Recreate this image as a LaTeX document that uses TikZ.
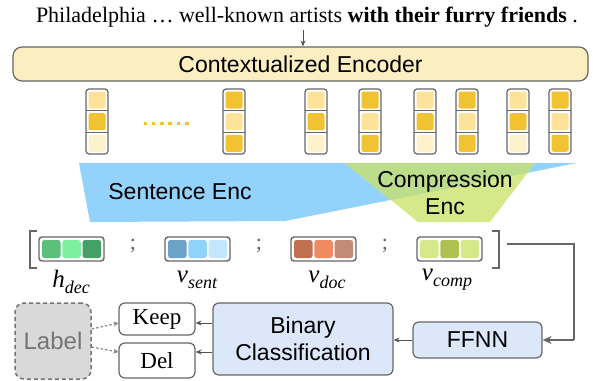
\documentclass[tikz,border=0pt]{standalone}
\usepackage{fontspec}
\setmainfont{Liberation Serif}
\setsansfont{Liberation Sans}
\usetikzlibrary{arrows.meta}
\definecolor{linegray}{HTML}{666666}
\definecolor{encfill}{HTML}{FBEEC1}
\definecolor{tokL}{HTML}{FDE39A}
\definecolor{tokD}{HTML}{F1C232}
\definecolor{tokV}{HTML}{FEF2CC}
\definecolor{sentblue}{HTML}{93D3FB}
\definecolor{compgreen}{HTML}{D5E98A}
\definecolor{overlapgreen}{HTML}{BCDD8C}
\definecolor{boxblue}{HTML}{DDE7FA}
\definecolor{labelgray}{HTML}{D9D9D9}
\definecolor{labeltext}{HTML}{757575}
\definecolor{gA}{HTML}{5CC07A}\definecolor{gB}{HTML}{7DF0A0}\definecolor{gC}{HTML}{45A065}
\definecolor{bA}{HTML}{6BA2C8}\definecolor{bB}{HTML}{8FD3FB}\definecolor{bC}{HTML}{C2E6FD}
\definecolor{rA}{HTML}{C07050}\definecolor{rB}{HTML}{F08A60}\definecolor{rC}{HTML}{C48A78}
\definecolor{yA}{HTML}{D6E98A}\definecolor{yB}{HTML}{B0C050}\definecolor{yC}{HTML}{D6E98A}
\begin{document}
\begin{tikzpicture}[x=1pt,y=-1pt,
  sansbig/.style={font=\sffamily\fontsize{23}{27}\selectfont},
  serifbig/.style={font=\fontsize{23}{27}\selectfont},
  procbox/.style={draw=linegray, line width=1.2pt, rounded corners=6pt, fill=boxblue, sansbig, align=center, inner sep=0pt},
  outbox/.style={draw=linegray, line width=1.2pt, rounded corners=6pt, fill=white, serifbig, inner sep=0pt},
  arr/.style={draw=linegray!80!black, line width=1pt, -{Stealth[length=6pt,width=5pt]}},
  bigarr/.style={draw=linegray, line width=1.5pt, -{Stealth[length=9pt,width=8pt]}},
  dasharr/.style={draw=linegray!80, line width=1.2pt, dashed, dash pattern=on 2.5pt off 2pt, -{Stealth[length=5pt,width=5pt]}},
  tokborder/.style={draw=linegray, line width=1.2pt},
  vecborder/.style={draw=linegray, line width=1.4pt, rounded corners=3pt, fill=white},
  bracket/.style={draw=linegray, line width=2.8pt},
  sub/.style={inner sep=0pt}
]
\useasboundingbox (0,0) rectangle (593,380);

% top sentence
\node[font=\fontsize{22}{24}\selectfont, inner sep=0pt] (sent) at (307,17)
  {Philadelphia … well-known artists \textbf{with their furry friends} .};
\node[draw=linegray, line width=1.2pt, rounded corners=9pt, fill=encfill,
  minimum width=575pt, minimum height=34pt, sansbig, inner sep=0pt] (enc) at (300.5,64) {Contextualized Encoder};
\coordinate (arrx) at (303,0);
\draw[arr] (sent.south -| arrx) ++(0,3) -- (enc.north -| arrx);

% token columns
\foreach \x/\a/\b/\c in {86/L/D/V, 223/D/L/D, 305/L/D/V, 359/D/L/D, 414/L/D/V, 456/D/L/D, 507/L/D/V, 549/D/L/D}{
  \fill[white] (\x,89) rectangle ++(22,65);
  \fill[tok\a, rounded corners=2pt] (\x+2.5,91.5) rectangle ++(17,17);
  \fill[tok\b, rounded corners=2pt] (\x+2.5,113.2) rectangle ++(17,17);
  \fill[tok\c, rounded corners=2pt] (\x+2.5,134.8) rectangle ++(17,17);
  \draw[tokborder] (\x,110.7) -- ++(22,0);
  \draw[tokborder] (\x,132.3) -- ++(22,0);
  \draw[tokborder, rounded corners=3pt] (\x,89) rectangle ++(22,65);
}
\foreach \i in {0,...,5}{
  \fill[tokD] (143.5+\i*8.3,121.5) rectangle ++(3.5,3.5);
}

% encoders
\fill[sentblue] (79,163) -- (577,163) -- (285,221) -- (90,222) -- cycle;
\fill[compgreen] (345,163) -- (535,163) -- (490,222) -- (418,222) -- cycle;
\begin{scope}
  \clip (79,163) -- (577,163) -- (285,221) -- (90,222) -- cycle;
  \fill[overlapgreen] (345,163) -- (535,163) -- (490,222) -- (418,222) -- cycle;
\end{scope}
\node[sansbig] (senc) at (180,192) {Sentence Enc};
\node[sansbig, align=center] (cenc) at (445,193) {Compression\\Enc};

% concatenated vector
\draw[bracket] (37,231) -- (30,231) -- (30,268) -- (37,268);
\draw[bracket] (492,231) -- (499,231) -- (499,268) -- (492,268);
\foreach \x/\p in {39/g, 165/b, 291/r, 417/y}{
  \draw[vecborder] (\x,237) rectangle ++(65,24);
  \fill[\p A, rounded corners=2.5pt] (\x+3,240) rectangle ++(18.5,18);
  \fill[\p B, rounded corners=2.5pt] (\x+23.3,240) rectangle ++(18.5,18);
  \fill[\p C, rounded corners=2.5pt] (\x+43.6,240) rectangle ++(18.5,18);
}
\foreach \x/\n in {133/s1, 259/s2, 385/s3}{
  \node[font=\fontsize{22}{22}\selectfont, text=linegray] (\n) at (\x,246) {;};
}
\node[sub] (hdec) at (71,282) {\fontsize{25}{25}\selectfont\itshape h\raisebox{-6pt}{\fontsize{18}{18}\selectfont dec}};
\node[sub] (vsent) at (197,280) {\fontsize{25}{25}\selectfont\itshape v\raisebox{-6pt}{\fontsize{18}{18}\selectfont sent}};
\node[sub] (vdoc) at (327,280) {\fontsize{25}{25}\selectfont\itshape v\raisebox{-6pt}{\fontsize{18}{18}\selectfont doc}};
\node[sub] (vcomp) at (447,280) {\fontsize{25}{25}\selectfont\itshape v\raisebox{-6pt}{\fontsize{18}{18}\selectfont comp}};

% bottom pipeline
\node[procbox, minimum width=129pt, minimum height=36pt] (ffnn) at (477.5,340) {FFNN};
\node[procbox, minimum width=180pt, minimum height=72pt] (bin) at (303,339) {Binary\\Classification};
\node[outbox, minimum width=76pt, minimum height=32pt] (keep) at (157,319) {Keep};
\node[outbox, minimum width=76pt, minimum height=35pt] (del) at (157,360.5) {Del};
\node[draw=linegray!90, line width=1.5pt, dashed, dash pattern=on 4pt off 3pt, rounded corners=9pt,
  fill=labelgray, minimum width=76pt, minimum height=76pt, text=labeltext,
  font=\sffamily\fontsize{24}{24}\selectfont, inner sep=0pt] (label) at (53,341) {Label};

\coordinate (rb) at (507,244);
\coordinate (turn) at (574,0);
\draw[bigarr, -] (rb) -- (rb -| turn) -- (turn |- ffnn.east);
\draw[bigarr] (turn |- ffnn.east) -- (ffnn.east);
\draw[arr] (ffnn.west) -- (bin.east |- ffnn.west);
\coordinate (ka) at (0,323);
\coordinate (da) at (0,352);
\draw[arr] (bin.west |- ka) -- (keep.east |- ka);
\draw[arr] (bin.west |- da) -- (del.east |- da);
\coordinate (la) at (0,329);
\coordinate (lb) at (0,347);
\draw[dasharr] (label.east |- la) -- (keep.west |- ka);
\draw[dasharr] (label.east |- lb) -- (del.west |- da);
\end{tikzpicture}
\end{document}
